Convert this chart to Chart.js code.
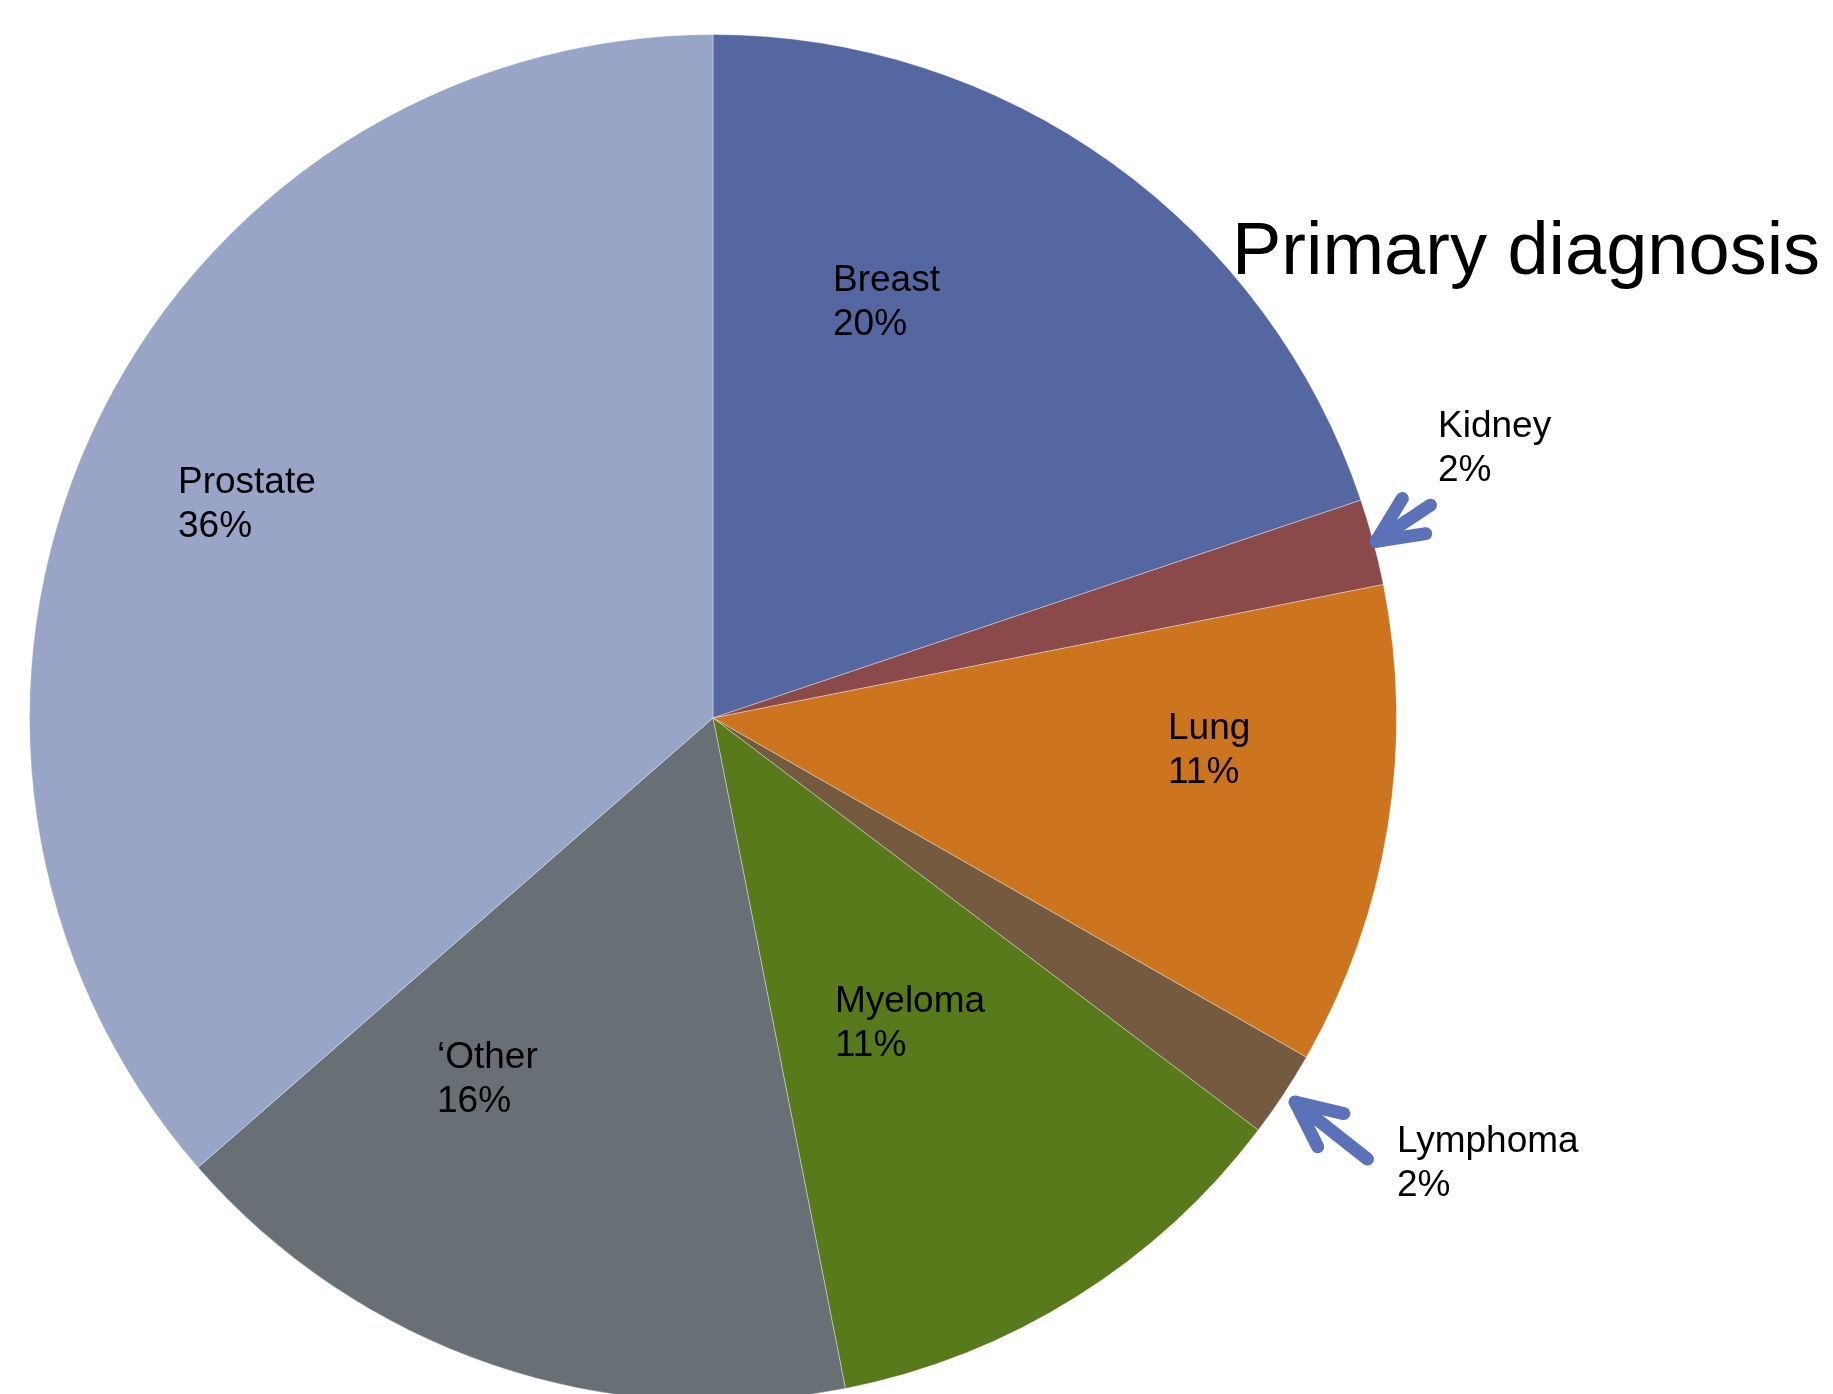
<!DOCTYPE html>
<html>
<head>
<meta charset="utf-8">
<title>Primary diagnosis</title>
<script src="https://cdn.jsdelivr.net/npm/chart.js@4/dist/chart.umd.min.js"></script>
<style>
  html, body { margin: 0; padding: 0; background: #fff; overflow: hidden; }
  #wrap { width: 1833px; height: 1410px; }
</style>
</head>
<body>
<div id="wrap"><canvas id="chart" width="1833" height="1410"></canvas></div>
<script>
// share of patients by primary diagnosis (%)
const diagnoses = ["Breast", "Kidney", "Lung", "Lymphoma", "Myeloma", "\u2018Other", "Prostate"];
const shares = [19.5, 2.0, 11.2, 2.0, 11.4, 16.4, 35.8];
const sliceColors = ["#5567A0", "#8A4A4A", "#CC741E", "#745A3E", "#587A1B", "#686F75", "#98A5C7"];

// label anchor (left edge, first baseline), offset from the pie centre
const labelOffsets = [[120, -427], [725, -281], [455, 21], [684, 434], [122, 294], [-276, 350], [-535, -225]];
// callout arrows for the thin slices: tail direction (deg), shaft length, gap from rim
const arrows = {
  Kidney:   { dir: -33.7, len: 65, gap: 3 },
  Lymphoma: { dir: 38.2,  len: 92, gap: 14 }
};

const font = '"Liberation Sans", Arial, sans-serif';

const sliceLabels = {
  id: "sliceLabels",
  afterDraw(chart) {
    const ctx = chart.ctx;
    const arcs = chart.getDatasetMeta(0).data;
    const cx = arcs[0].x, cy = arcs[0].y;

    ctx.save();
    // arrows
    ctx.strokeStyle = "#5B72B8";
    ctx.lineWidth = 13;
    ctx.lineCap = "round";
    ctx.lineJoin = "round";
    diagnoses.forEach((name, i) => {
      const a = arrows[name];
      if (!a) return;
      const arc = arcs[i];
      const mid = (arc.startAngle + arc.endAngle) / 2;
      const r = arc.outerRadius + a.gap;
      const tx = cx + Math.cos(mid) * r, ty = cy + Math.sin(mid) * r;
      const d = a.dir * Math.PI / 180;
      ctx.beginPath();
      ctx.moveTo(tx + Math.cos(d) * a.len, ty + Math.sin(d) * a.len);
      ctx.lineTo(tx, ty);
      ctx.stroke();
      [-25, 25].forEach(off => {
        const b = d + off * Math.PI / 180;
        ctx.beginPath();
        ctx.moveTo(tx + Math.cos(b) * 50, ty + Math.sin(b) * 50);
        ctx.lineTo(tx, ty);
        ctx.stroke();
      });
    });

    // labels
    ctx.fillStyle = "#000";
    ctx.font = "37px " + font;
    ctx.textAlign = "left";
    ctx.textBaseline = "alphabetic";
    diagnoses.forEach((name, i) => {
      const [dx, dy] = labelOffsets[i];
      ctx.fillText(name, cx + dx, cy + dy);
      ctx.fillText(Math.round(shares[i]) + "%", cx + dx, cy + dy + 44);
    });

    // title
    ctx.font = "74px " + font;
    ctx.fillText("Primary diagnosis", 1232, 274);
    ctx.restore();
  }
};

new Chart(document.getElementById("chart"), {
  type: "pie",
  data: {
    labels: diagnoses,
    datasets: [{
      data: shares,
      backgroundColor: sliceColors,
      borderColor: "rgba(255,255,255,0.35)",
      borderWidth: 1
    }]
  },
  options: {
    responsive: false,
    animation: false,
    devicePixelRatio: 1,
    layout: { padding: { left: 29, right: 436, top: 34, bottom: 8 } },
    plugins: {
      legend: { display: false },
      tooltip: { enabled: false }
    }
  },
  plugins: [sliceLabels]
});
</script>
</body>
</html>
